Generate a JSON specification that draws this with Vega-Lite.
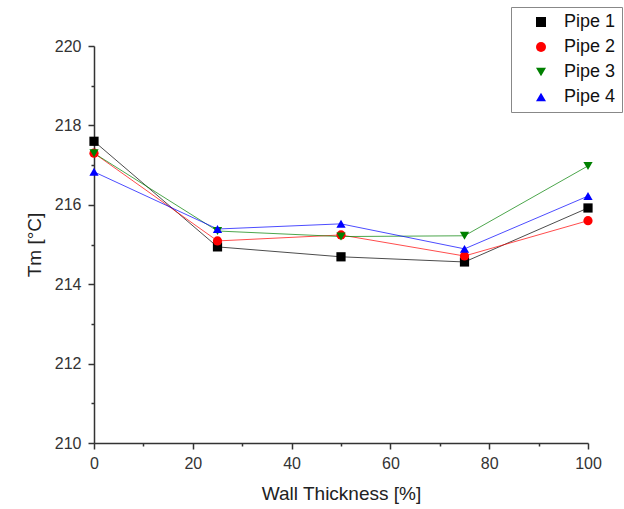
{
  "$schema": "https://vega.github.io/schema/vega-lite/v6.json",
  "autosize": {"type": "none"},
  "padding": {"left": 94, "top": 46, "right": 36, "bottom": 66},
  "width": 494,
  "height": 397,
  "background": "white",
  "config": {
    "view": {"stroke": null},
    "font": "Liberation Sans",
    "axis": {"grid": false, "domainColor": "#333", "domainWidth": 1.5, "tickColor": "#333", "tickWidth": 1.5, "labelColor": "#333", "titleColor": "#222", "labelFont": "Liberation Sans", "titleFont": "Liberation Sans", "labelFontSize": 16, "titleFontSize": 19, "titleFontWeight": "normal"}
  },
  "data": {
    "values": [
      {"wall": 0, "tm": 217.6, "pipe": "Pipe 1"},
      {"wall": 25, "tm": 214.94, "pipe": "Pipe 1"},
      {"wall": 50, "tm": 214.69, "pipe": "Pipe 1"},
      {"wall": 75, "tm": 214.56, "pipe": "Pipe 1"},
      {"wall": 100, "tm": 215.92, "pipe": "Pipe 1"},
      {"wall": 0, "tm": 217.3, "pipe": "Pipe 2"},
      {"wall": 25, "tm": 215.09, "pipe": "Pipe 2"},
      {"wall": 50, "tm": 215.24, "pipe": "Pipe 2"},
      {"wall": 75, "tm": 214.71, "pipe": "Pipe 2"},
      {"wall": 100, "tm": 215.6, "pipe": "Pipe 2"},
      {"wall": 0, "tm": 217.3, "pipe": "Pipe 3"},
      {"wall": 25, "tm": 215.34, "pipe": "Pipe 3"},
      {"wall": 50, "tm": 215.2, "pipe": "Pipe 3"},
      {"wall": 75, "tm": 215.22, "pipe": "Pipe 3"},
      {"wall": 100, "tm": 216.98, "pipe": "Pipe 3"},
      {"wall": 0, "tm": 216.83, "pipe": "Pipe 4"},
      {"wall": 25, "tm": 215.39, "pipe": "Pipe 4"},
      {"wall": 50, "tm": 215.52, "pipe": "Pipe 4"},
      {"wall": 75, "tm": 214.89, "pipe": "Pipe 4"},
      {"wall": 100, "tm": 216.22, "pipe": "Pipe 4"}
    ]
  },
  "encoding": {
    "x": {
      "field": "wall", "type": "quantitative",
      "scale": {"domain": [0, 100], "nice": false, "zero": false},
      "axis": {
        "title": "Wall Thickness [%]",
        "values": [0, 10, 20, 30, 40, 50, 60, 70, 80, 90, 100],
        "labelExpr": "datum.value % 20 === 0 ? datum.label : ''",
        "tickSize": {"expr": "datum.value % 20 === 0 ? 6 : 3"},
        "labelPadding": 6,
        "titlePadding": 13,
        "labelFlush": false
      }
    },
    "y": {
      "field": "tm", "type": "quantitative",
      "scale": {"domain": [210, 220], "nice": false, "zero": false},
      "axis": {
        "title": "Tm [°C]",
        "values": [210, 211, 212, 213, 214, 215, 216, 217, 218, 219, 220],
        "labelExpr": "datum.value % 2 === 0 ? datum.label : ''",
        "tickSize": {"expr": "datum.value % 2 === 0 ? 6 : 3"},
        "labelPadding": 7,
        "titlePadding": 10,
        "labelFlush": false
      }
    },
    "color": {
      "field": "pipe", "type": "nominal",
      "scale": {"domain": ["Pipe 1", "Pipe 2", "Pipe 3", "Pipe 4"], "range": ["#000000", "#ff0000", "#008000", "#0000ff"]},
      "legend": {
        "title": null,
        "orient": "none",
        "legendX": 417,
        "legendY": -39,
        "direction": "vertical",
        "strokeColor": "#888",
        "fillColor": "white",
        "padding": 6,
        "symbolSize": 100,
        "symbolOffset": 15,
        "symbolStrokeWidth": 0,
        "symbolOpacity": 1,
        "labelFont": "Liberation Sans",
        "labelFontSize": 18,
        "labelColor": "#111",
        "labelOffset": 14,
        "rowPadding": 7
      }
    }
  },
  "layer": [
    {
      "mark": {"type": "line", "strokeWidth": 1, "opacity": 0.7}
    },
    {
      "mark": {"type": "point", "filled": true, "size": 85, "opacity": 1},
      "encoding": {
        "shape": {
          "field": "pipe", "type": "nominal",
          "scale": {"domain": ["Pipe 1", "Pipe 2", "Pipe 3", "Pipe 4"], "range": ["square", "circle", "triangle-down", "triangle-up"]}
        }
      }
    }
  ]
}
